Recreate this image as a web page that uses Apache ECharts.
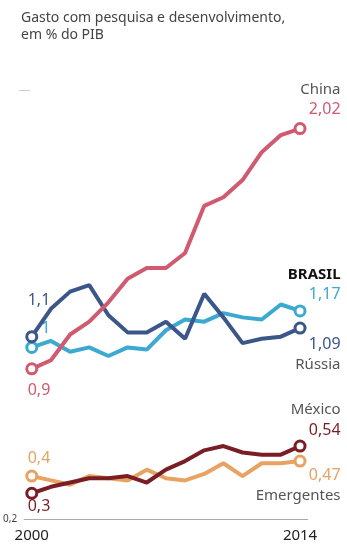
<!DOCTYPE html>
<html><head><meta charset="utf-8">
<script src="https://cdn.jsdelivr.net/npm/echarts@6/dist/echarts.min.js"></script>
<style>html,body{margin:0;padding:0;background:#fff}#c{width:347px;height:548px}</style>
</head><body><div id="c"></div>
<script>
const years = [2000,2001,2002,2003,2004,2005,2006,2007,2008,2009,2010,2011,2012,2013,2014];
const china      = [0.90,0.94,1.06,1.12,1.21,1.32,1.37,1.37,1.44,1.66,1.70,1.78,1.91,1.99,2.02];
const russia     = [1.05,1.18,1.26,1.29,1.15,1.07,1.07,1.12,1.04,1.25,1.14,1.02,1.04,1.05,1.09];
const brasil     = [1.00,1.03,0.98,1.00,0.96,1.00,0.99,1.08,1.13,1.12,1.16,1.14,1.13,1.20,1.17];
const mexico     = [0.32,0.35,0.37,0.39,0.39,0.40,0.37,0.43,0.47,0.52,0.54,0.51,0.50,0.50,0.54];
const emergentes = [0.40,0.38,0.36,0.40,0.39,0.38,0.43,0.39,0.38,0.41,0.46,0.40,0.46,0.46,0.47];
const names      = ['Emergentes','México','BRASIL','Rússia','China'];
const startLabels= ['0,4','0,3','1','1,1','0,9'];
const endLabels  = ['0,47','0,54','1,17','1,09','2,02'];
const xTickLabels = [2000, 2014];
const yTickLabels = [0.2];

const seriesData = [emergentes, mexico, brasil, russia, china];
const colors = ['#e8a262','#7a1e26','#3ba9d0','#3b5689','#d05a70'];
// label layout: [startDx, startDy, endDx, endDy, nameAbove]
const layout = [
  [25,-11.5,47,31,false],
  [25,20,47,-19.5,true],
  [25,-12,47,-20,true],
  [25,-30,47,33,false],
  [25,28,47,-22.5,true]
];

const series = seriesData.map((arr, si) => {
  const c = colors[si];
  const L = layout[si];
  const isBrasil = names[si] === 'BRASIL';
  const data = arr.map((v, i) => {
    const item = { value: [years[i], v] };
    if (i === 0) {
      item.label = { show: true, formatter: startLabels[si], position: [L[0], L[1]],
        align: 'right', verticalAlign: 'middle', color: c, fontSize: 16,
        fontFamily: 'Noto Sans' };
    } else if (i === arr.length - 1) {
      const nameStyle = isBrasil ? 'b' : 'n';
      const fmt = L[4] ? '{' + nameStyle + '|' + names[si] + '}\n{v|' + endLabels[si] + '}'
                       : '{v|' + endLabels[si] + '}\n{' + nameStyle + '|' + names[si] + '}';
      item.label = { show: true, formatter: fmt, position: [L[2], L[3]],
        align: 'right', verticalAlign: 'middle', fontFamily: 'Noto Sans',
        rich: {
          n: { color: '#555', fontSize: 15, lineHeight: 20, align: 'right', fontFamily: 'Noto Sans' },
          b: { color: '#111', fontSize: 15, fontWeight: 'bold', lineHeight: 20, align: 'right', fontFamily: 'Noto Sans' },
          v: { color: c, fontSize: 16, lineHeight: 20, align: 'right', fontFamily: 'Noto Sans' }
        } };
    }
    return item;
  });
  return {
    type: 'line', name: names[si], data: data,
    lineStyle: { color: c, width: 4 },
    itemStyle: { color: '#fff', borderColor: c, borderWidth: 3 },
    symbol: (val, params) => (params.dataIndex === 0 || params.dataIndex === arr.length - 1) ? 'circle' : 'none',
    symbolSize: 10, showAllSymbol: true, animation: false, z: 2 + si,
    emphasis: { disabled: true }
  };
});

const chart = echarts.init(document.getElementById('c'), null, { renderer: 'canvas' });
chart.setOption({
  animation: false,
  backgroundColor: '#fff',
  title: {
    text: 'Gasto com pesquisa e desenvolvimento,\nem % do PIB',
    left: 16, top: 5,
    textStyle: { fontFamily: 'Noto Sans', fontSize: 14, fontWeight: 'normal', color: '#444', lineHeight: 17 }
  },
  grid: { left: 22.3, right: 39.3, top: 90, bottom: 29 },
  xAxis: {
    type: 'value', min: 1999.6, max: 2014.4,
    axisLine: { show: true, lineStyle: { color: '#aaa', width: 1 } },
    axisTick: { show: false },
    splitLine: { show: false },
    axisLabel: { customValues: xTickLabels, formatter: v => String(Math.round(v)),
      fontFamily: 'Noto Sans', fontSize: 15, color: '#222', margin: 9 }
  },
  yAxis: {
    type: 'value', min: 0.2, max: 2.2, offset: -6,
    axisLine: { show: false },
    splitLine: { show: false },
    axisTick: { show: true, customValues: [2.2], length: 11, lineStyle: { color: '#ccc', width: 1 } },
    axisLabel: { customValues: yTickLabels, formatter: v => v.toFixed(1).replace('.', ','),
      fontFamily: 'Noto Sans', fontSize: 10, color: '#444', margin: 13 }
  },
  series: series
});
</script></body></html>
